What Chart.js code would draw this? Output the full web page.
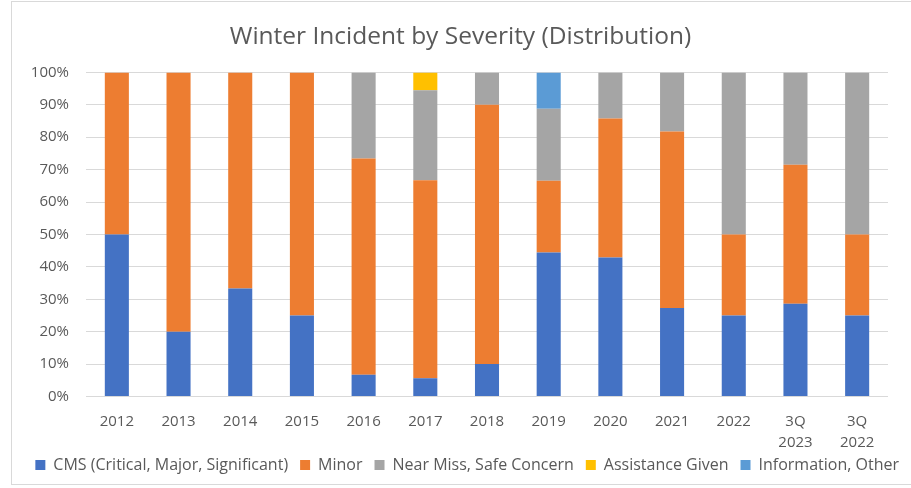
<!DOCTYPE html>
<html>
<head>
<meta charset="utf-8">
<script src="https://cdn.jsdelivr.net/npm/chart.js@4"></script>
<style>
  html, body { margin: 0; padding: 0; background: #fff; overflow: hidden; }
  #wrap { position: relative; width: 911px; height: 488px; }
  #frame { position: absolute; left: 11px; top: 1px; width: 920px; height: 484px; border: 1px solid #d9d9d9; box-sizing: border-box; }
  #chartBox { position: absolute; left: 0; top: 0; width: 911px; height: 488px; }
</style>
</head>
<body>
<div id="wrap">
  <div id="frame"></div>
  <div id="chartBox"><canvas id="myChart"></canvas></div>
</div>
<script>
// categories (multi-line ones are arrays)
const years = ['2012', '2013', '2014', '2015', '2016', '2017', '2018', '2019', '2020', '2021', '2022', ['3Q', '2023'], ['3Q', '2022']];

// share of incidents, percent
const cms        = [50, 20, 33.3, 25, 6.7, 5.6, 10, 44.4, 42.9, 27.3, 25, 28.6, 25];
const minor      = [50, 80, 66.7, 75, 66.7, 61.1, 80, 22.2, 42.9, 54.5, 25, 42.9, 25];
const nearMiss   = [0, 0, 0, 0, 26.6, 27.8, 10, 22.2, 14.2, 18.2, 50, 28.5, 50];
const assistance = [0, 0, 0, 0, 0, 5.5, 0, 0, 0, 0, 0, 0, 0];
const infoOther  = [0, 0, 0, 0, 0, 0, 0, 11.2, 0, 0, 0, 0, 0];

const yTicks = [0, 10, 20, 30, 40, 50, 60, 70, 80, 90, 100];

const textColor = '#595959';
const font = 'Open Sans';

function makeSet(label, data, color) {
    return {
        label: label,
        data: data,
        backgroundColor: color,
        borderWidth: 0,
        barPercentage: 1,
        categoryPercentage: 0.39
    };
}

const ctx = document.getElementById('myChart');
const chart = new Chart(ctx, {
    type: 'bar',
    data: {
        labels: years,
        datasets: [
            makeSet('CMS (Critical, Major, Significant)', cms, '#4472C4'),
            makeSet('Minor', minor, '#ED7D31'),
            makeSet('Near Miss, Safe Concern', nearMiss, '#A5A5A5'),
            makeSet('Assistance Given', assistance, '#FFC000'),
            makeSet('Information, Other', infoOther, '#5B9BD5')
        ]
    },
    options: {
        responsive: true,
        maintainAspectRatio: false,
        animation: false,
        layout: { padding: { left: 10, right: 0, top: 0, bottom: 5 } },
        scales: {
            x: {
                stacked: true,
                afterFit: (axis) => {
                    axis.height -= 23;
                    axis._computeLabelArea = () => null; // don't clip the 2nd label line
                },
                grid: { display: false, drawTicks: false },
                border: { display: false },
                ticks: {
                    color: textColor,
                    padding: 14,
                    maxRotation: 0,
                    autoSkip: false,
                    font: { family: font, size: 15, lineHeight: 1.45 }
                }
            },
            y: {
                stacked: true,
                min: 0,
                max: 100,
                afterFit: (axis) => { axis.width = 76; },
                afterBuildTicks: (axis) => { axis.ticks = yTicks.map(v => ({ value: v })); },
                grid: { color: '#d9d9d9', lineWidth: 1, drawTicks: false },
                border: { display: false },
                ticks: {
                    color: textColor,
                    padding: 17,
                    font: { family: font, size: 15 },
                    callback: (v) => v + '%'
                }
            },
            // empty spacer on the right so the plot ends where the reference does
            spacer: {
                type: 'linear',
                position: 'right',
                afterFit: (axis) => { axis.width = 23; },
                grid: { display: false, drawTicks: false },
                border: { display: false },
                ticks: { display: false }
            }
        },
        plugins: {
            title: {
                display: true,
                text: 'Winter Incident by Severity (Distribution)',
                color: textColor,
                padding: { top: 22, bottom: 21 },
                font: { family: font, size: 24.5, weight: 'normal', lineHeight: 1.2 }
            },
            legend: {
                position: 'bottom',
                align: 'end',
                labels: {
                    color: textColor,
                    boxWidth: 10,
                    boxHeight: 10,
                    padding: 12,
                    font: { family: font, size: 16 }
                }
            },
            tooltip: { enabled: false }
        }
    }
});
</script>
</body>
</html>
